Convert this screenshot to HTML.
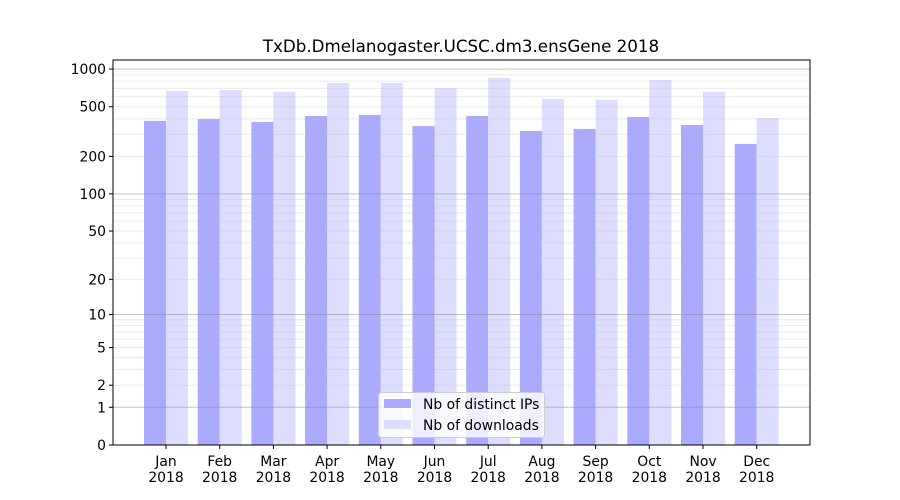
<!DOCTYPE html>
<html><head><meta charset="utf-8"><style>body{margin:0;background:#fff}svg{display:block;font-family:"DejaVu Sans","Liberation Sans",sans-serif}</style></head>
<body>
<svg id="c" width="900" height="500"></svg>
<script>
const months=["Jan","Feb","Mar","Apr","May","Jun","Jul","Aug","Sep","Oct","Nov","Dec"];
const ips=[385,399,377,422,430,350,422,320,332,414,357,252];
const downloads=[668,680,655,774,774,706,849,576,566,818,655,406];
const yTicks=[0,1,2,5,10,20,50,100,200,500,1000];
const NS="http://www.w3.org/2000/svg";
const svg=document.getElementById('c');
const L=113,R=810,T=60,B=445,FS=13.9;
const y=v=>B-Math.log10(1+v)*125.3;
const x=i=>166+i*53.7;
function mk(t,a,p){const e=document.createElementNS(NS,t);for(const k in a)e.setAttribute(k,a[k]);(p||svg).appendChild(e);return e;}
const bars=mk('g',{});


months.forEach((m,i)=>{
 const b1=mk('rect',{x:x(i)-22,y:y(ips[i]),width:22,height:B-y(ips[i]),fill:'#aaaaff'},bars);
 
 
 const b2=mk('rect',{x:x(i),y:y(downloads[i]),width:22,height:B-y(downloads[i]),fill:'#ddddff'},bars);
 
 
});
const grid=mk('g',{});


[1,10,100,1000].forEach(d=>{
 mk('line',{x1:L,x2:R,y1:y(d),y2:y(d),stroke:'#888',"stroke-opacity":0.5,"stroke-width":1},grid);
 for(let k=2;k<10;k++){const v=d*k; if(y(v)<T)break;
  mk('line',{x1:L,x2:R,y1:y(v),y2:y(v),stroke:'#bbb',"stroke-opacity":0.3,"stroke-width":1},grid);}
});
const ax=mk('rect',{x:L,y:T,width:R-L,height:B-T,fill:'none',stroke:'#000',"stroke-width":1});


yTicks.forEach(v=>{
 mk('line',{x1:L-4,x2:L,y1:y(v),y2:y(v),stroke:'#000'});
 const t=mk('text',{x:L-7,y:y(v)+5,"text-anchor":"end","font-size":FS});t.textContent=v;
 
 
});
months.forEach((m,i)=>{
 mk('line',{x1:x(i),x2:x(i),y1:B,y2:B+4,stroke:'#000'});
 const t=mk('text',{x:x(i),y:B+21,"text-anchor":"middle","font-size":FS});t.textContent=m;
 
 
 const t2=mk('text',{x:x(i),y:B+37,"text-anchor":"middle","font-size":FS});t2.textContent='2018';
 
 
});
const title=mk('text',{x:461,y:52,"text-anchor":"middle","font-size":16.7});title.textContent='TxDb.Dmelanogaster.UCSC.dm3.ensGene 2018';


const lg=mk('g',{});


mk('rect',{x:378.5,y:392.5,width:166,height:45,rx:3,fill:'#fff',"fill-opacity":0.8,stroke:'#ccc'},lg);
mk('rect',{x:384,y:399,width:27,height:9,fill:'#aaaaff'},lg);
mk('rect',{x:384,y:420,width:27,height:9,fill:'#ddddff'},lg);
const l1=mk('text',{x:423,y:409,"font-size":FS},lg);l1.textContent='Nb of distinct IPs';


const l2=mk('text',{x:423,y:430,"font-size":FS},lg);l2.textContent='Nb of downloads';


</script>
</body></html>
